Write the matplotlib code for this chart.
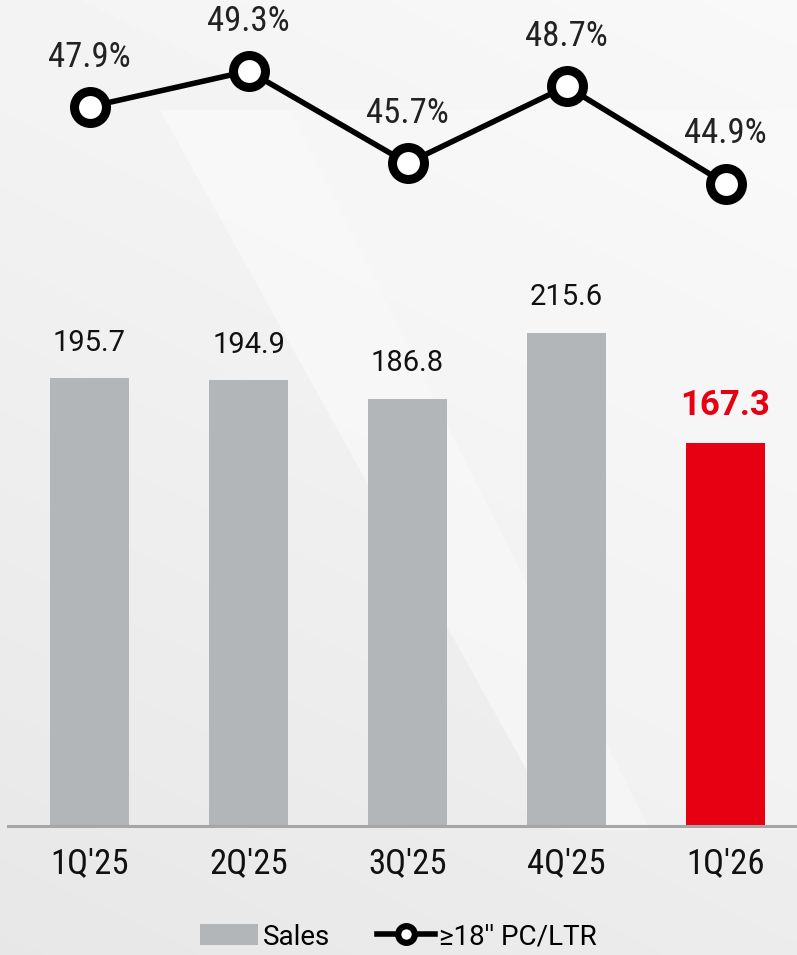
import numpy as np
import matplotlib
matplotlib.use("Agg")
import matplotlib.pyplot as plt
from matplotlib.patches import Polygon, Patch
from matplotlib.lines import Line2D

quarters = ["1Q'25", "2Q'25", "3Q'25", "4Q'25", "1Q'26"]
sales = [195.7, 194.9, 186.8, 215.6, 167.3]
share = [47.9, 49.3, 45.7, 48.7, 44.9]
sales_labels = ["195.7", "194.9", "186.8", "215.6", "167.3"]
share_labels = ["47.9%", "49.3%", "45.7%", "48.7%", "44.9%"]

GREY = '#b3b6b9'
RED = '#e60012'
NARROW = ['Roboto Condensed', 'Roboto']

W, H = 797, 955
fig = plt.figure(figsize=(W / 100, H / 100), dpi=100)
fig.patch.set_facecolor('#eeeeee')

# background: soft grey gradient plus a lighter diagonal band
bg = fig.add_axes([0, 0, 1, 1], zorder=0)
bg.set_xlim(0, W)
bg.set_ylim(H, 0)
bg.axis('off')
gy, gx = np.mgrid[0:H:5, 0:W:5]
shade = 0.975 - 0.05 * (gy / H) - 0.02 * (1 - gx / W)
bg.imshow(shade, cmap='gray', vmin=0, vmax=1, extent=(0, W, H, 0), aspect='auto',
          interpolation='bilinear')
bg.add_patch(Polygon([[160, 110], [290, 110], [650, 830], [560, 830]], closed=True,
                     facecolor='white', alpha=0.45, lw=0))
bg.add_patch(Polygon([[290, 110], [797, 110], [797, 830], [650, 830]], closed=True,
                     facecolor='white', alpha=0.25, lw=0))

x = np.arange(len(quarters))
x0, x1 = -0.5126, -0.5126 + 789 / 159

# bars
base_y = 826
top_y = 250
ax = fig.add_axes([8 / W, (H - base_y) / H, 789 / W, (base_y - top_y) / H], zorder=2)
ax.patch.set_alpha(0)
ppu = 2.287
ax.set_xlim(x0, x1)
ax.set_ylim(0, (base_y - top_y) / ppu)
colors = [GREY] * 4 + [RED]
ax.bar(x, sales, width=0.5, color=colors)
for i, v in enumerate(sales):
    if i == 4:
        ax.text(i, v + 9.5, sales_labels[i], ha='center', va='bottom', fontsize=25,
                family='Roboto', fontweight='bold', color=RED)
    else:
        ax.text(i, v + 9.5, sales_labels[i], ha='center', va='bottom', fontsize=21,
                family='Roboto', color='#111111')
for s in ['top', 'right', 'left']:
    ax.spines[s].set_visible(False)
ax.spines['bottom'].set_color('#a6a6a6')
ax.spines['bottom'].set_linewidth(2.2)
ax.set_yticks([])
ax.set_xticks(x)
ax.set_xticklabels(quarters, family=NARROW, fontsize=25, color='#111111')
ax.tick_params(axis='x', length=0, pad=15)

# line
lax = fig.add_axes([8 / W, (H - 250) / H, 789 / W, 250 / H], zorder=3)
lax.patch.set_alpha(0)
lax.set_xlim(x0, x1)
lax.set_ylim(49.3 - 179 / 25.6, 49.3 + 71 / 25.6)
lax.axis('off')
lax.plot(x, share, color='black', lw=4, marker='o', markersize=23,
         markerfacecolor='white', markeredgecolor='black', markeredgewidth=6.5)
for i, v in enumerate(share):
    lax.text(i, v + 1.3, share_labels[i], ha='center', va='bottom', fontsize=25,
             family=NARROW, color='#222222')

# legend
handles = [Patch(facecolor=GREY, edgecolor='none'),
           Line2D([0], [0], color='black', lw=4, marker='o', markersize=12,
                  markerfacecolor='white', markeredgewidth=4.5)]
leg = fig.legend(handles, ['Sales', "≥18'' PC/LTR"], loc='center',
                 bbox_to_anchor=(0.5, (H - 937) / H),
                 ncol=2, frameon=False, prop={'family': 'Roboto', 'size': 20},
                 handlelength=2.1, handleheight=0.8, columnspacing=1.7, handletextpad=0.15)

fig.savefig('out.png', dpi=100, facecolor=fig.get_facecolor())
